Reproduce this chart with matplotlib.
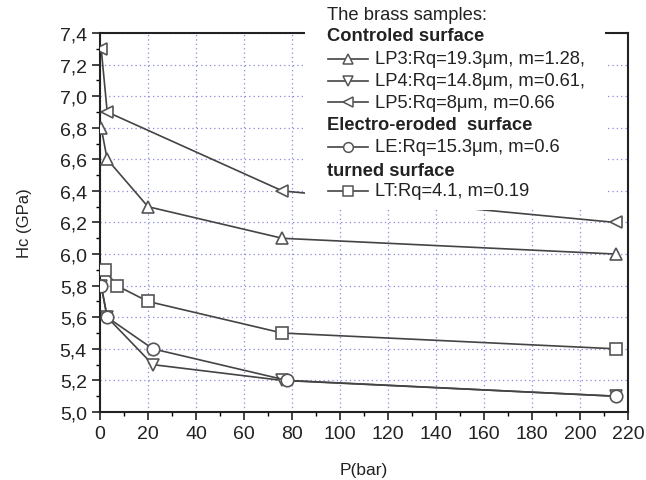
import matplotlib
matplotlib.use("Agg")
import matplotlib.pyplot as plt
from matplotlib.lines import Line2D
from matplotlib.patches import Rectangle
from matplotlib.ticker import MultipleLocator, FuncFormatter

plt.rcParams['font.family'] = ['Liberation Sans', 'DejaVu Sans']

# data
lp3_x = [0.5, 3, 20, 76, 215]
lp3_y = [6.8, 6.6, 6.3, 6.1, 6.0]
lp4_x = [0.5, 3, 22, 76, 215]
lp4_y = [5.8, 5.6, 5.3, 5.2, 5.1]
lp5_x = [0.5, 3, 76, 215]
lp5_y = [7.3, 6.9, 6.4, 6.2]
le_x = [0.5, 3, 22, 78, 215]
le_y = [5.8, 5.6, 5.4, 5.2, 5.1]
lt_x = [2, 7, 20, 76, 215]
lt_y = [5.9, 5.8, 5.7, 5.5, 5.4]

series = [
    ("LP3:Rq=19.3μm, m=1.28,", lp3_x, lp3_y, '^'),
    ("LP4:Rq=14.8μm, m=0.61,", lp4_x, lp4_y, 'v'),
    ("LP5:Rq=8μm, m=0.66", lp5_x, lp5_y, '<'),
    ("LE:Rq=15.3μm, m=0.6", le_x, le_y, 'o'),
    ("LT:Rq=4.1, m=0.19", lt_x, lt_y, 's'),
]

W, H = 646, 481
fig = plt.figure(figsize=(W / 100, H / 100), dpi=100)
ax = fig.add_axes([100 / W, 1 - 413 / H, 528 / W, 379 / H])

lc = '#444444'
for name, xs, ys, m in series:
    ax.plot(xs, ys, color=lc, lw=1.2, marker=m, ms=9, mfc='white',
            mec='#555555', mew=1.2, zorder=3)

ax.set_xlim(0, 220)
ax.set_ylim(5.0, 7.4)
ax.xaxis.set_major_locator(MultipleLocator(20))
ax.xaxis.set_minor_locator(MultipleLocator(10))
ax.yaxis.set_major_locator(MultipleLocator(0.2))
ax.yaxis.set_minor_locator(MultipleLocator(0.1))
ax.yaxis.set_major_formatter(FuncFormatter(lambda v, p: f"{v:.1f}".replace('.', ',')))
ax.tick_params(which='major', direction='out', length=6, width=1.2, labelsize=14, colors='#222222')
ax.tick_params(which='minor', direction='out', length=3, width=1.0)
ax.grid(True, which='major', color='#8a8ae0', linestyle=(0, (1, 2.5)), lw=0.9)
for s in ax.spines.values():
    s.set_linewidth(1.5)
    s.set_color('#222222')

ax.set_xlabel("P(bar)", fontsize=12.5, labelpad=14, color='#222222')
ax.set_ylabel("Hc (GPa)", fontsize=12, labelpad=20, color='#222222')

# legend background covering the axes
fig.add_artist(Rectangle((305 / W, 1 - 211 / H), 300 / W, 211 / H,
                         transform=fig.transFigure, facecolor='white',
                         edgecolor='none', zorder=5))

rows = [15, 37, 60, 82, 103, 126, 148, 171, 192]
items = [
    ("The brass samples:", None, False),
    ("Controled surface", None, True),
    (series[0][0], '^', False),
    (series[1][0], 'v', False),
    (series[2][0], '<', False),
    ("Electro-eroded  surface", None, True),
    (series[3][0], 'o', False),
    ("turned surface", None, True),
    (series[4][0], 's', False),
]
for yrow, (txt, m, bold) in zip(rows, items):
    yf = 1 - yrow / H
    if m is None:
        fig.text(327 / W, yf, txt, fontsize=13.2, fontweight='bold' if bold else 'normal',
                 va='center', ha='left', color='#222222', zorder=6)
    else:
        fig.add_artist(Line2D([328 / W, 368 / W], [yf, yf], transform=fig.transFigure,
                              color=lc, lw=1.2, zorder=6))
        fig.add_artist(Line2D([348 / W], [yf], transform=fig.transFigure, marker=m,
                              ms=7, mfc='white', mec='#555555', mew=1.1, zorder=7))
        fig.text(375 / W, yf, txt, fontsize=13.2, va='center', ha='left',
                 color='#222222', zorder=6)

fig.savefig("out.png", dpi=100)
